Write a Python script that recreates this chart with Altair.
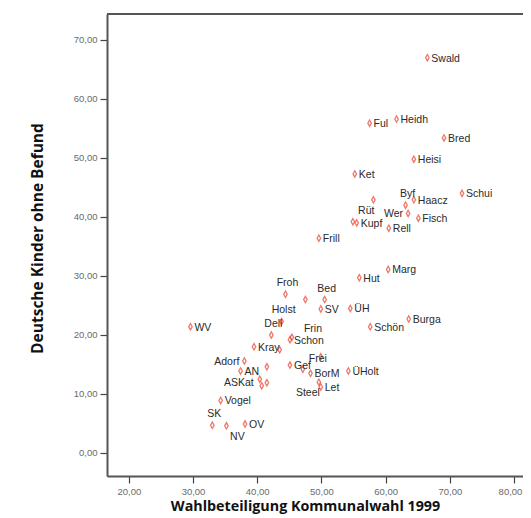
import altair as alt
import pandas as pd

names = ["Swald", "Ful", "Heidh", "Bred", "Heisi", "Ket", "Schui", "Haacz", "Byf", "Rüt",
         "Wer", "Fisch", "Kupf", "", "Rell", "Frill", "Marg", "Hut", "Bed", "",
         "Froh", "SV", "ÜH", "Holst", "Burga", "Schön", "WV", "Dell", "Frin", "Schon",
         "Kray", "", "Adorf", "Frei", "Gef", "", "AN", "", "BorM", "ÜHolt",
         "ASKat", "", "", "Steel", "Let", "Vogel", "SK", "NV", "OV"]
turnout = [66.5, 57.5, 61.7, 69.1, 64.4, 55.2, 71.9, 64.4, 63.1, 58.1,
           63.5, 65.1, 55.5, 54.9, 60.5, 49.6, 60.4, 55.9, 50.5, 47.5,
           44.4, 49.9, 54.5, 43.8, 63.6, 57.6, 29.6, 42.2, 45.4, 45.1,
           39.5, 43.5, 38.0, 49.9, 45.1, 47.1, 37.4, 41.5, 48.3, 54.2,
           40.4, 41.5, 40.7, 49.6, 49.9, 34.3, 33.0, 35.2, 38.1]
kids = [67.0, 55.9, 56.6, 53.4, 49.8, 47.3, 44.0, 42.9, 42.0, 42.9,
        40.6, 39.8, 39.0, 39.2, 38.1, 36.4, 31.1, 29.7, 26.0, 26.0,
        26.9, 24.4, 24.5, 22.3, 22.7, 21.4, 21.4, 20.0, 19.6, 19.2,
        18.0, 17.5, 15.6, 16.3, 14.9, 14.2, 13.9, 14.6, 13.5, 13.9,
        12.5, 11.9, 11.4, 12.0, 11.2, 8.9, 4.7, 4.6, 4.9]

x_ticks = [20, 30, 40, 50, 60, 70, 80]
y_ticks = [0, 10, 20, 30, 40, 50, 60, 70]

labels_above = ["Froh", "Bed", "Holst", "Dell", "SK", "Byf"]
labels_left = ["Adorf", "Wer"]
labels_left_low = ["ASKat"]
labels_below_left = ["Rüt", "Steel"]
labels_below_right = ["NV"]
labels_upper_right = ["Frin"]
labels_center = ["Frei"]
special = (labels_above + labels_left + labels_left_low + labels_below_left
           + labels_below_right + labels_upper_right + labels_center)
labels_right = [n for n in names if n and n not in special]

df = pd.DataFrame({"name": names, "turnout": turnout, "kids": kids})

W, H = 416, 462
fmt = "replace(format(datum.value, '.2f'), '.', ',')"

x_enc = alt.X("turnout:Q",
              scale=alt.Scale(domain=[16.6, 81.4], nice=False, zero=False),
              axis=alt.Axis(values=x_ticks, labelExpr=fmt, title="Wahlbeteiligung Kommunalwahl 1999",
                            grid=False, titlePadding=4, titleFontSize=14.3,
                            labelPadding=3, titleX=198, titleAlign="center",
                            labelOffset={"condition": {"test": "datum.value == 80", "value": -4},
                                         "value": 0}))
y_enc = alt.Y("kids:Q",
              scale=alt.Scale(domain=[-3.9, 74.4], nice=False, zero=False),
              axis=alt.Axis(values=y_ticks, labelExpr=fmt, title="Deutsche Kinder ohne Befund",
                            grid=False, titlePadding=28, titleFontSize=15.5,
                            labelPadding=3, titleY=224))

base = alt.Chart(df).encode(x=x_enc, y=y_enc)

points = base.mark_point(
    shape="M0,-1L0.55,0L0,1L-0.55,0Z", size=40, filled=False,
    stroke="#e8402f", strokeWidth=1.3
)

def text_layer(group, **kw):
    return base.mark_text(fontSize=10.5, font="Liberation Sans", color="#2a2a2a", **kw).encode(
        text="name:N"
    ).transform_filter(alt.FieldOneOfPredicate(field="name", oneOf=group))

t_right = text_layer(labels_right, align="left", baseline="middle", dx=4, dy=1)
t_above = text_layer(labels_above, align="center", baseline="middle", dx=2, dy=-11)
t_left = text_layer(labels_left, align="right", baseline="middle", dx=-5, dy=1)
t_left_low = text_layer(labels_left_low, align="right", baseline="middle", dx=-6, dy=4)
t_bl = text_layer(labels_below_left, align="right", baseline="middle", dx=1, dy=11)
t_br = text_layer(labels_below_right, align="center", baseline="middle", dx=11, dy=11)
t_ur = text_layer(labels_upper_right, align="left", baseline="middle", dx=12, dy=-8)
t_c = text_layer(labels_center, align="center", baseline="middle", dx=-3, dy=2)

top_line = alt.Chart(df).mark_rule(color="#555555", strokeWidth=2).encode(
    x=alt.value(0), x2=alt.value(W), y=alt.value(0)
)

chart = alt.layer(top_line, points, t_right, t_above, t_left, t_left_low, t_bl, t_br, t_ur, t_c).properties(
    width=W, height=H,
    autosize="none",
    padding={"left": 99, "top": 6, "right": 0, "bottom": 42},
).configure_view(stroke=None).configure_axis(
    domainColor="#555555", domainWidth=2,
    tickColor="#444444", tickSize=7, tickWidth=1.2,
    labelColor="#6a6a6a", labelFontSize=9.5, labelFont="Liberation Sans",
    titleFont="Open Sans", titleFontWeight="bold", titleColor="#111111",
)

chart.save("out.html", embed_options={"renderer": "svg", "actions": False})
